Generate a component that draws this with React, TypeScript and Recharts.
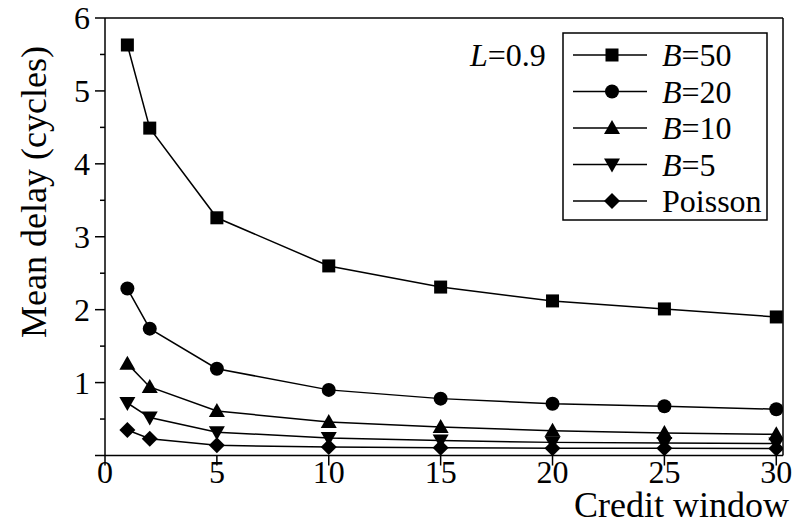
import React from 'react';
import { LineChart, Line, XAxis, YAxis, ReferenceLine } from 'recharts';

const creditWindow = [1, 2, 5, 10, 15, 20, 25, 30];
const b50 = [5.63, 4.49, 3.26, 2.6, 2.31, 2.12, 2.01, 1.9];
const b20 = [2.29, 1.74, 1.19, 0.9, 0.78, 0.71, 0.675, 0.635];
const b10 = [1.26, 0.94, 0.61, 0.46, 0.39, 0.34, 0.31, 0.29];
const b5 = [0.72, 0.52, 0.32, 0.24, 0.205, 0.18, 0.17, 0.165];
const poisson = [0.35, 0.23, 0.14, 0.115, 0.105, 0.1, 0.1, 0.095];

const xTicks = [0, 5, 10, 15, 20, 25, 30];
const yTicks = [0, 0.5, 1, 1.5, 2, 2.5, 3, 3.5, 4, 4.5, 5, 5.5, 6];

const FONT = "'Times New Roman', 'Liberation Serif', serif";
const txt = { fontFamily: FONT, fontSize: 32, fill: '#000' };
const title = { fontFamily: FONT, fontSize: 36, fill: '#000' };

const data = creditWindow.map((w, i) => ({
  w,
  b50: b50[i],
  b20: b20[i],
  b10: b10[i],
  b5: b5[i],
  poisson: poisson[i],
}));

type Shape = 'square' | 'circle' | 'up' | 'down' | 'diamond';

function Marker({ shape, cx, cy }: { shape: Shape; cx: number; cy: number }) {
  switch (shape) {
    case 'square':
      return <rect x={cx - 6.5} y={cy - 6.5} width={13} height={13} fill="#000" />;
    case 'circle':
      return <circle cx={cx} cy={cy} r={7} fill="#000" />;
    case 'up':
      return <polygon points={`${cx},${cy - 8} ${cx + 8},${cy + 6} ${cx - 8},${cy + 6}`} fill="#000" />;
    case 'down':
      return <polygon points={`${cx},${cy + 8} ${cx + 8},${cy - 6} ${cx - 8},${cy - 6}`} fill="#000" />;
    default:
      return <polygon points={`${cx},${cy - 8} ${cx + 8},${cy} ${cx},${cy + 8} ${cx - 8},${cy}`} fill="#000" />;
  }
}

const dotFor = (shape: Shape) => (p: any) => (
  <g key={`${shape}-${p.index}`}>
    <Marker shape={shape} cx={p.cx} cy={p.cy} />
  </g>
);

const series: { key: string; shape: Shape; label: React.ReactNode }[] = [
  { key: 'b50', shape: 'square', label: <><tspan fontStyle="italic">B</tspan>=50</> },
  { key: 'b20', shape: 'circle', label: <><tspan fontStyle="italic">B</tspan>=20</> },
  { key: 'b10', shape: 'up', label: <><tspan fontStyle="italic">B</tspan>=10</> },
  { key: 'b5', shape: 'down', label: <><tspan fontStyle="italic">B</tspan>=5</> },
  { key: 'poisson', shape: 'diamond', label: 'Poisson' },
];

function YTick(props: any) {
  const { x, y, payload } = props;
  const major = Number.isInteger(payload.value);
  return (
    <g>
      <line x1={x - (major ? 10 : 5)} y1={y} x2={x} y2={y} stroke="#000" strokeWidth={1.5} />
      {major && payload.value !== 0 && (
        <text x={x - 15} y={y + 11} textAnchor="end" style={txt}>
          {payload.value}
        </text>
      )}
    </g>
  );
}

function XTick(props: any) {
  const { x, y, payload } = props;
  return (
    <g>
      <line x1={x} y1={y} x2={x} y2={y + 10} stroke="#000" strokeWidth={1.5} />
      <text x={x} y={y + 27} textAnchor="middle" style={txt}>
        {payload.value}
      </text>
    </g>
  );
}

function LegendBox() {
  return (
    <g>
      <rect x={563} y={33} width={204} height={187} fill="#fff" stroke="#000" strokeWidth={1.5} />
      {series.map((s, i) => {
        const cy = 55 + i * 36.5;
        return (
          <g key={s.key}>
            <line x1={573} y1={cy} x2={647} y2={cy} stroke="#000" strokeWidth={1.5} />
            <Marker shape={s.shape} cx={612} cy={cy} />
            <text x={662} y={cy + 11} style={txt}>
              {s.label}
            </text>
          </g>
        );
      })}
    </g>
  );
}

export default function App() {
  return (
    <div style={{ position: 'absolute', left: 0, top: 0, background: '#fff' }}>
      <LineChart width={792} height={525} data={data} margin={{ top: 18, right: 9, bottom: 0, left: 0 }}>
        <XAxis
          dataKey="w"
          type="number"
          domain={[0, 30.3]}
          ticks={xTicks}
          allowDataOverflow
          height={69.5}
          tickSize={0}
          tickMargin={0}
          tickLine={false}
          axisLine={{ stroke: '#000', strokeWidth: 1.5 }}
          tick={(p: any) => <XTick {...p} />}
          interval={0}
        />
        <YAxis
          type="number"
          domain={[0, 6]}
          ticks={yTicks}
          width={105}
          tickSize={0}
          tickMargin={0}
          tickLine={false}
          axisLine={{ stroke: '#000', strokeWidth: 1.5 }}
          tick={(p: any) => <YTick {...p} />}
          interval={0}
        />
        <ReferenceLine y={6} stroke="#000" strokeWidth={1.5} />
        <ReferenceLine x={30.3} stroke="#000" strokeWidth={1.5} />
        {series.map((s) => (
          <Line
            key={s.key}
            dataKey={s.key}
            type="linear"
            stroke="#000"
            strokeWidth={1.5}
            dot={dotFor(s.shape)}
            activeDot={false}
            isAnimationActive={false}
          />
        ))}
        <LegendBox />
        <text x={470} y={66} style={txt}>
          <tspan fontStyle="italic">L</tspan>=0.9
        </text>
        <text x={789} y={517} textAnchor="end" style={title}>
          Credit window
        </text>
        <text x={46} y={192} transform="rotate(-90 46 192)" textAnchor="middle" style={title}>
          Mean delay (cycles)
        </text>
      </LineChart>
    </div>
  );
}
